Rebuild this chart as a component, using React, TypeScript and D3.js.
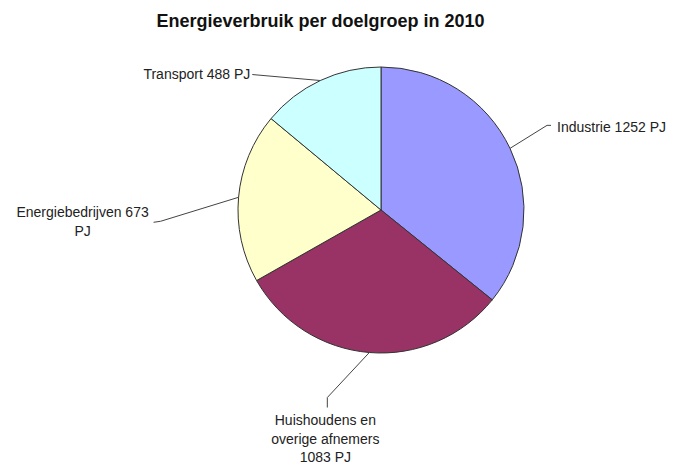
import React from "react";
import * as d3 from "d3";

const categories = ["Industrie", "Huishoudens en overige afnemers", "Energiebedrijven", "Transport"];
const values = [1252, 1083, 673, 488];
const unit = "PJ";
const colors = ["#9999ff", "#993366", "#ffffcc", "#ccffff"];
const title = "Energieverbruik per doelgroep in 2010";

const W = 684, H = 465;
const cx = 381, cy = 210, R = 143;

// label layout: offsets from the slice's edge point (leader elbows) and text position
const labelLayout = [
  { pts: [[37, -23], [41, -23]], text: { dx: 47, dy: -21, anchor: "start" }, lines: ["Industrie 1252 PJ"] },
  { pts: [[-42, 45], [-42, 55]], text: { dx: -44, dy: 68, anchor: "middle" }, lines: ["Huishoudens en", "overige afnemers", "1083 PJ"] },
  { pts: [[-78, 24], [-85, 25]], text: { dx: -156, dy: 15, anchor: "middle" }, lines: ["Energiebedrijven 673", "PJ"] },
  { pts: [[-68, -6]], text: { dx: -70, dy: -6, anchor: "end" }, lines: ["Transport 488 PJ"] },
];

export default function App() {
  const pie = d3.pie<number>().sort(null).value((d) => d)(values);
  const arc = d3.arc<d3.PieArcDatum<number>>().innerRadius(0).outerRadius(R);
  const edge = d3.arc<d3.PieArcDatum<number>>().innerRadius(R).outerRadius(R);
  const font = "'Liberation Sans', Arial, sans-serif";
  return (
    <svg width={W} height={H} style={{ position: "absolute", left: 0, top: 0 }}>
      <rect width={W} height={H} fill="#ffffff" />
      <text x={320.5} y={27} textAnchor="middle" fontFamily={font} fontWeight="bold" fontSize={18} fill="#111">
        {title}
      </text>
      <g transform={`translate(${cx},${cy})`}>
        {pie.map((p, i) => (
          <path key={i} d={arc(p) || ""} fill={colors[i]} stroke="#333" strokeWidth={1} />
        ))}
        {pie.map((p, i) => {
          const [ex, ey] = edge.centroid(p);
          const L = labelLayout[i];
          const pts = [[ex, ey], ...L.pts.map(([dx, dy]) => [ex + dx, ey + dy])];
          const line = d3.line()(pts as [number, number][]) || "";
          const tx = ex + L.text.dx, ty = ey + L.text.dy;
          return (
            <g key={"l" + i}>
              <path d={line} fill="none" stroke="#444" strokeWidth={1} />
              <text x={tx} y={ty} textAnchor={L.text.anchor} fontFamily={font} fontSize={14} fill="#222">
                {L.lines.map((t, j) => (
                  <tspan key={j} x={tx} dy={j === 0 ? "0.35em" : 18.5}>{t}</tspan>
                ))}
              </text>
            </g>
          );
        })}
      </g>
    </svg>
  );
}
